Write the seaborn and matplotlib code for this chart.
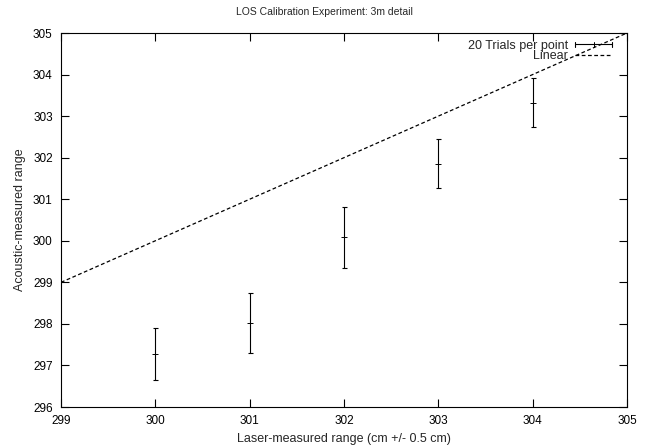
import numpy as np
import pandas as pd
import matplotlib
matplotlib.use('Agg')
import matplotlib.pyplot as plt
from matplotlib.lines import Line2D
from matplotlib.legend_handler import HandlerBase
import seaborn as sns

# Data
laser_range = [300, 301, 302, 303, 304]
acoustic_mean = [297.27, 298.02, 300.08, 301.85, 303.32]
acoustic_err = [0.62, 0.72, 0.74, 0.59, 0.59]
linear_x = [299, 305]
linear_y = [299, 305]

FS = 9
DASH = (0, (3, 2))


# gnuplot-like errorbar key: horizontal bar with end caps and a centre tick
class HandlerGnuErr(HandlerBase):
    def create_artists(self, legend, orig_handle, xdescent, ydescent,
                       width, height, fontsize, trans):
        y = height / 2 - ydescent
        x0, x1 = -xdescent, width - xdescent
        c = 2.0
        arts = [
            Line2D([x0, x1], [y, y], color='black', lw=0.8),
            Line2D([x0, x0], [y - c, y + c], color='black', lw=0.8),
            Line2D([x1, x1], [y - c, y + c], color='black', lw=0.8),
            Line2D([(x0 + x1) / 2] * 2, [y - c, y + c], color='black', lw=0.7),
        ]
        for a in arts:
            a.set_transform(trans)
        return arts


sns.set_style('ticks')
plt.rcParams['font.family'] = ['Liberation Sans', 'DejaVu Sans']

fig = plt.figure(figsize=(6.49, 4.48), dpi=100)
ax = fig.add_axes([61 / 649, 1 - 407 / 448, (627 - 61) / 649, (407 - 33) / 448])

df = pd.DataFrame({'x': laser_range, 'y': acoustic_mean, 'err': acoustic_err})
ax.errorbar(df['x'], df['y'], yerr=df['err'], fmt='none', ecolor='black',
            elinewidth=0.8, capsize=1.8, capthick=0.8)
sns.scatterplot(data=df, x='x', y='y', ax=ax, marker='_', s=18,
                color='black', linewidth=0.7, zorder=3)
sns.lineplot(x=linear_x, y=linear_y, ax=ax, color='black', lw=0.9,
             linestyle=DASH)

ax.set_xlim(299, 305)
ax.set_ylim(296, 305)
ax.set_xticks(range(299, 306))
ax.set_yticks(range(296, 306))
ax.tick_params(direction='in', length=6, width=0.8, top=True, right=True,
               labelsize=8.5, colors='black', pad=6)
for s in ax.spines.values():
    s.set_linewidth(0.8)
    s.set_color('black')

fig.suptitle('LOS Calibration Experiment: 3m detail', fontsize=7.5, y=0.985)
ax.set_xlabel('Laser-measured range (cm +/- 0.5 cm)', fontsize=FS, labelpad=4)
ax.set_ylabel('Acoustic-measured range', fontsize=FS, labelpad=5)

err_handle = Line2D([], [], color='black')
lin_handle = Line2D([], [], color='black', lw=0.9, linestyle=DASH)
ax.legend([err_handle, lin_handle], ['20 Trials per point', 'Linear'],
          handler_map={err_handle: HandlerGnuErr()},
          loc='upper right', bbox_to_anchor=(0.9735, 0.982),
          frameon=False, markerfirst=False, fontsize=FS,
          handlelength=2.96, borderaxespad=0, borderpad=0,
          labelspacing=-0.1, handletextpad=0.55)

fig.savefig('out.png', dpi=100)
